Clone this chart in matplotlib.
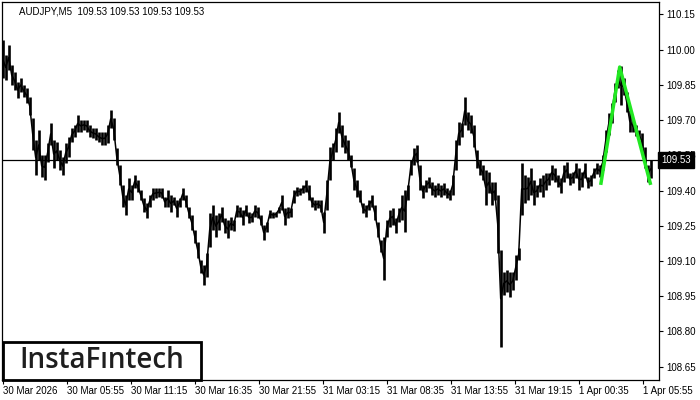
import matplotlib
matplotlib.use('Agg')
import matplotlib.pyplot as plt
from matplotlib.patches import Rectangle

symbol = 'AUDJPY,M5'
quote = [109.53, 109.53, 109.53, 109.53]
last_price = 109.53

# highs / lows, one entry per 15 min (3 x M5 bars)
highs = [
    110.041, 109.977, 110.020, 109.935, 109.905, 109.862, 109.879, 109.850, 109.837, 109.799,
    109.709, 109.615, 109.658, 109.552, 109.552, 109.603, 109.688, 109.615, 109.607, 109.573,
    109.543, 109.603, 109.628, 109.667, 109.679, 109.722, 109.701, 109.701, 109.701, 109.679,
    109.667, 109.667, 109.650, 109.650, 109.650, 109.679, 109.743, 109.709, 109.581, 109.509,
    109.424, 109.381, 109.453, 109.424, 109.466, 109.445, 109.402, 109.368, 109.347, 109.381,
    109.411, 109.411, 109.411, 109.411, 109.373, 109.402, 109.381, 109.373, 109.360, 109.368,
    109.411, 109.381, 109.330, 109.296, 109.232, 109.181, 109.104, 109.083, 109.134, 109.304,
    109.338, 109.296, 109.304, 109.330, 109.283, 109.275, 109.287, 109.275, 109.338, 109.330,
    109.317, 109.338, 109.309, 109.304, 109.338, 109.330, 109.296, 109.253, 109.266, 109.317,
    109.309, 109.309, 109.330, 109.381, 109.326, 109.330, 109.326, 109.402, 109.415, 109.411,
    109.424, 109.445, 109.424, 109.373, 109.360, 109.360, 109.360, 109.309, 109.445, 109.586,
    109.603, 109.667, 109.735, 109.679, 109.637, 109.615, 109.552, 109.496, 109.445, 109.402,
    109.347, 109.338, 109.360, 109.381, 109.338, 109.266, 109.189, 109.202, 109.275, 109.317,
    109.326, 109.283, 109.326, 109.381, 109.402, 109.424, 109.530, 109.581, 109.594, 109.509,
    109.424, 109.445, 109.458, 109.436, 109.424, 109.432, 109.424, 109.432, 109.411, 109.402,
    109.466, 109.615, 109.692, 109.688, 109.799, 109.735, 109.722, 109.679, 109.573, 109.530,
    109.509, 109.488, 109.479, 109.436, 109.436, 109.381, 109.147, 109.053, 109.062, 109.053,
    109.053, 109.125, 109.155, 109.517, 109.466, 109.458, 109.496, 109.445, 109.424, 109.453,
    109.466, 109.475, 109.475, 109.509, 109.496, 109.466, 109.453, 109.509, 109.522, 109.475,
    109.479, 109.517, 109.496, 109.479, 109.517, 109.458, 109.466, 109.496, 109.517, 109.509,
    109.552, 109.658, 109.730, 109.773, 109.858, 109.914, 109.931, 109.879, 109.820, 109.743,
    109.701, 109.679, 109.658, 109.645, 109.586, 109.509, 109.530,
]
lows = [
    109.879, 109.871, 109.914, 109.850, 109.828, 109.794, 109.820, 109.799, 109.773, 109.722,
    109.573, 109.466, 109.530, 109.458, 109.445, 109.522, 109.594, 109.496, 109.530, 109.488,
    109.466, 109.517, 109.543, 109.607, 109.628, 109.650, 109.650, 109.658, 109.650, 109.628,
    109.624, 109.615, 109.607, 109.594, 109.594, 109.603, 109.667, 109.615, 109.509, 109.424,
    109.330, 109.296, 109.360, 109.360, 109.411, 109.394, 109.360, 109.309, 109.283, 109.330,
    109.360, 109.368, 109.373, 109.368, 109.330, 109.330, 109.309, 109.338, 109.287, 109.330,
    109.360, 109.330, 109.283, 109.232, 109.177, 109.113, 109.049, 108.998, 109.032, 109.160,
    109.232, 109.202, 109.232, 109.266, 109.219, 109.198, 109.232, 109.228, 109.287, 109.287,
    109.253, 109.292, 109.262, 109.266, 109.287, 109.283, 109.253, 109.189, 109.223, 109.283,
    109.283, 109.287, 109.304, 109.317, 109.253, 109.283, 109.287, 109.347, 109.377, 109.381,
    109.390, 109.394, 109.360, 109.330, 109.317, 109.326, 109.309, 109.219, 109.317, 109.445,
    109.530, 109.564, 109.645, 109.586, 109.560, 109.530, 109.500, 109.402, 109.373, 109.351,
    109.304, 109.287, 109.317, 109.330, 109.275, 109.202, 109.138, 109.019, 109.202, 109.245,
    109.253, 109.219, 109.266, 109.275, 109.223, 109.360, 109.466, 109.509, 109.522, 109.402,
    109.368, 109.394, 109.411, 109.381, 109.373, 109.381, 109.373, 109.381, 109.368, 109.360,
    109.381, 109.488, 109.594, 109.628, 109.679, 109.658, 109.645, 109.586, 109.496, 109.466,
    109.445, 109.338, 109.390, 109.338, 109.360, 109.134, 108.733, 108.955, 108.968, 108.946,
    108.976, 109.019, 109.104, 109.296, 109.347, 109.360, 109.381, 109.338, 109.373, 109.394,
    109.373, 109.402, 109.424, 109.445, 109.436, 109.415, 109.390, 109.436, 109.453, 109.424,
    109.432, 109.453, 109.402, 109.415, 109.453, 109.411, 109.419, 109.453, 109.470, 109.458,
    109.488, 109.564, 109.637, 109.688, 109.777, 109.837, 109.765, 109.807, 109.735, 109.650,
    109.650, 109.632, 109.615, 109.581, 109.496, 109.436, 109.453,
]
assert len(highs) == len(lows)

time_labels = ['30 Mar 2026', '30 Mar 05:55', '30 Mar 11:15', '30 Mar 16:35',
               '30 Mar 21:55', '31 Mar 03:15', '31 Mar 08:35', '31 Mar 13:55',
               '31 Mar 19:15', '1 Apr 00:35', '1 Apr 05:55']
price_ticks = [108.65, 108.80, 108.95, 109.10, 109.25, 109.40, 109.55,
               109.70, 109.85, 110.00, 110.15]

# pattern (M5 bar number, price)
pattern_bars = [598, 617, 648]
pattern_prices = [109.424, 109.926, 109.424]

plt.rcParams['font.family'] = ['Liberation Sans', 'DejaVu Sans']

fig = plt.figure(figsize=(7, 4), dpi=100)
ax = fig.add_axes([2 / 700, 20 / 400, 657 / 700, 378 / 400])

bars = [3 * i for i in range(len(highs))]
mids = [(h + l) / 2 for h, l in zip(highs, lows)]
ax.vlines(bars, lows, highs, color='black', linewidth=1.9)
ax.plot(bars, mids, color='black', linewidth=1.1)
ax.axhline(last_price, color='black', linewidth=0.9)
ax.plot(pattern_bars, pattern_prices, color='#22e822', linewidth=2.5,
        solid_capstyle='butt')

ax.set_xlim(-0.7, 656.3)
ax.set_ylim(108.593, 110.203)

ax.set_xticks([64 * i for i in range(len(time_labels))])
ax.set_xticklabels(time_labels, ha='left')
ax.yaxis.tick_right()
ax.set_yticks(price_ticks)
ax.set_yticklabels(['%.2f' % p for p in price_ticks])
ax.tick_params(axis='both', direction='out', length=3, width=0.8,
               labelsize=7, pad=2, colors='black')
ax.tick_params(axis='x', pad=1.5)
for s in ax.spines.values():
    s.set_linewidth(0.9)

ax.text(1.003, last_price, '%.2f' % last_price, transform=ax.get_yaxis_transform(),
        color='white', fontsize=7, va='center', ha='left', clip_on=False, zorder=10,
        bbox=dict(boxstyle='square,pad=0.3', facecolor='black', edgecolor='black'))

fig.text(19 / 700, 1 - 11 / 400,
         symbol + '  ' + ' '.join('%.2f' % q for q in quote),
         fontsize=7, va='center', ha='left')

# logo
fig.patches.append(Rectangle((3 / 700, 20 / 400), 198 / 700, 38 / 400,
                             transform=fig.transFigure, facecolor='white',
                             edgecolor='black', linewidth=2))
fig.text(102 / 700, 1 - 360 / 400, 'InstaFıntech', fontsize=20,
         family='Open Sans', fontweight='semibold', ha='center', va='center',
         color='#1e1e1e')

fig.savefig('out.png', dpi=100)
